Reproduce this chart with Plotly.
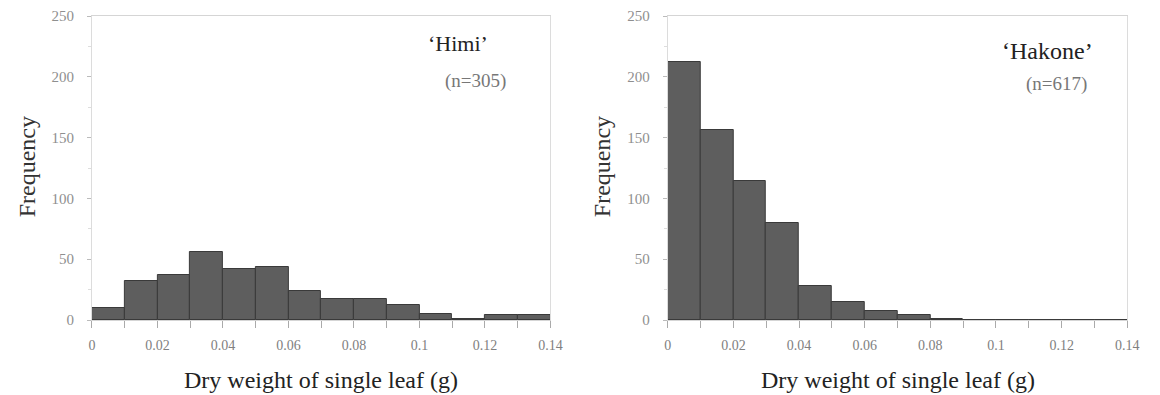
import plotly.graph_objects as go
from plotly.subplots import make_subplots

# ---- data ----
bin_left = [0.00, 0.01, 0.02, 0.03, 0.04, 0.05, 0.06, 0.07, 0.08, 0.09, 0.10, 0.11, 0.12, 0.13]
bin_width = 0.01
himi_counts = [10, 32, 37, 56, 42, 44, 24, 17, 17, 12, 5, 1, 4, 4]
hakone_counts = [212, 156, 114, 80, 28, 15, 7, 4, 1, 0, 0, 0, 0, 0]

x_tickvals = [0.00, 0.01, 0.02, 0.03, 0.04, 0.05, 0.06, 0.07, 0.08, 0.09, 0.10, 0.11, 0.12, 0.13, 0.14]
x_ticktext = ["0", "", "0.02", "", "0.04", "", "0.06", "", "0.08", "", "0.1", "", "0.12", "", "0.14"]
y_tickvals = [0, 50, 100, 150, 200, 250]

panel_names = ["\u2018Himi\u2019", "\u2018Hakone\u2019"]
panel_n = ["(n=305)", "(n=617)"]
x_title = "Dry weight of single leaf (g)"
y_title = "Frequency"

# page body adds an 8px margin; compensate so positions match the window
OFF = 8
W, H = 1160 - OFF, 395 - OFF
SERIF = "Liberation Serif, Times New Roman, serif"

TOP, BASE = 15 - OFF, 320 - OFF  # plot area rows in figure pixels

fig = make_subplots(rows=1, cols=2)

for col, counts in ((1, himi_counts), (2, hakone_counts)):
    fig.add_trace(go.Bar(
        x=bin_left, y=counts, width=bin_width, offset=0,
        marker=dict(color="#5e5e5e", line=dict(color="#3a3a3a", width=1)),
        showlegend=False, hoverinfo="x+y"),
        row=1, col=col)

axis_common_x = dict(
    range=[0, 0.14], tickvals=x_tickvals, ticktext=x_ticktext,
    ticks="outside", ticklen=7, tickcolor="#aaa", tickwidth=1,
    showline=True, linecolor="#d5d5d5", linewidth=1, mirror=True,
    showgrid=False, zeroline=False,
    tickfont=dict(family=SERIF, size=14, color="#808080"),
    ticklabelstandoff=5, ticklabeloverflow="allow",
)
axis_common_y = dict(
    range=[0, 250], tickvals=y_tickvals,
    ticks="outside", ticklen=4, tickcolor="#bbb", tickwidth=1,
    minor=dict(dtick=25, ticks="outside", ticklen=3, tickcolor="#ddd"),
    showline=True, linecolor="#dcdcdc", linewidth=1, mirror=True,
    showgrid=False, zeroline=False,
    tickfont=dict(family=SERIF, size=15, color="#8f8f8f"),
    ticklabelstandoff=10, ticklabeloverflow="allow",
)

def px_x(p):
    return (p - OFF) / W

def px_y(p):
    return (BASE - (p - OFF)) / (BASE - TOP)

d1 = [px_x(89), px_x(554)]
d2 = [px_x(673), px_x(1139)]
fig.update_layout(
    width=W, height=H,
    margin=dict(l=0, r=0, t=TOP, b=H - BASE),
    paper_bgcolor="white", plot_bgcolor="white",
    bargap=0,
    xaxis=dict(domain=d1, **axis_common_x),
    xaxis2=dict(domain=d2, **axis_common_x),
    yaxis=dict(domain=[0, 1], **axis_common_y),
    yaxis2=dict(domain=[0, 1], **axis_common_y),
)

ann = []
for d, name, n, nx, ny, nsize, sx, sy in (
    (d1, panel_names[0], panel_n[0], 460, 43, 22, 478, 80),
    (d2, panel_names[1], panel_n[1], 1058, 50, 24, 1067, 83),
):
    ann.append(dict(text=name, x=px_x(nx), y=px_y(ny), xref="paper", yref="paper",
                    xanchor="center", yanchor="middle", showarrow=False,
                    font=dict(family=SERIF, size=nsize, color="#222")))
    ann.append(dict(text=n, x=px_x(sx), y=px_y(sy), xref="paper", yref="paper",
                    xanchor="center", yanchor="middle", showarrow=False,
                    font=dict(family=SERIF, size=19, color="#777")))
    ann.append(dict(text=x_title, x=(d[0] + d[1]) / 2, y=px_y(380), xref="paper", yref="paper",
                    xanchor="center", yanchor="middle", showarrow=False,
                    font=dict(family=SERIF, size=24, color="#222")))

for cx in (23, 606):
    ann.append(dict(text=y_title, x=px_x(cx), y=px_y(166), xref="paper", yref="paper",
                    xanchor="center", yanchor="middle", showarrow=False, textangle=-90,
                    font=dict(family=SERIF, size=24, color="#333")))

fig.update_layout(annotations=ann)
fig.write_html("out.html")
